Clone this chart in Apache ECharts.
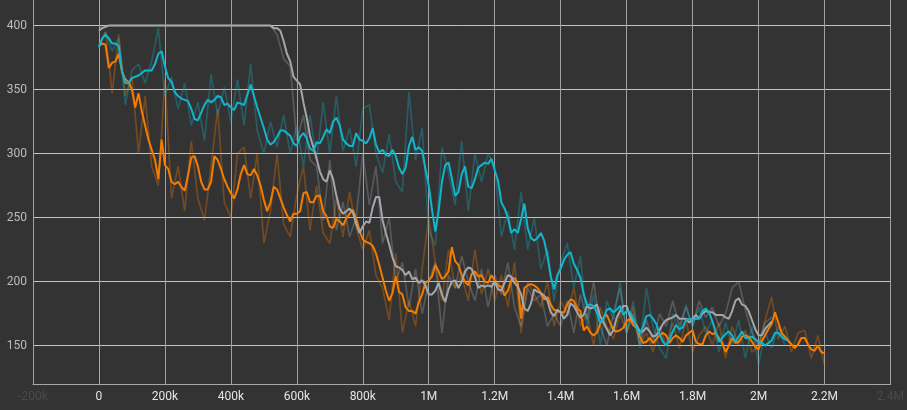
<!DOCTYPE html>
<html>
<head>
<meta charset="utf-8">
<script src="https://cdn.jsdelivr.net/npm/echarts@6/dist/echarts.min.js"></script>
<style>
  html, body { margin: 0; padding: 0; background: #333333; }
  #chart { width: 907px; height: 410px; }
</style>
</head>
<body>
<div id="chart"></div>
<script>
// smoothed curves are sampled every 10k steps, raw curves every 20k steps
const SMOOTH_STEP = 10000
const RAW_STEP = 20000

const orangeSmooth = [
  384, 386, 385, 367, 371, 372, 378, 364, 358, 356,
  350, 336, 347, 333, 322, 311, 303, 295, 280, 311,
  291, 288, 278, 276, 278, 274, 271, 283, 297, 298,
  290, 278, 272, 272, 278, 298, 295, 288, 280, 274,
  269, 265, 272, 284, 291, 284, 283, 288, 283, 275,
  264, 255, 262, 274, 272, 265, 258, 252, 247, 253,
  253, 255, 269, 270, 262, 262, 267, 267, 255, 251,
  243, 242, 249, 247, 244, 249, 253, 256, 249, 240,
  233, 231, 230, 228, 222, 213, 203, 193, 185, 191,
  204, 192, 190, 180, 177, 177, 175, 184, 190, 199,
  201, 204, 213, 208, 202, 204, 208, 227, 216, 213,
  205, 200, 197, 206, 208, 204, 205, 200, 199, 205,
  201, 197, 196, 189, 193, 201, 203, 199, 171, 195,
  197, 198, 197, 195, 191, 186, 188, 182, 178, 177,
  176, 176, 182, 186, 185, 179, 177, 162, 165, 160,
  158, 160, 167, 172, 174, 168, 162, 161, 162, 164,
  169, 171, 166, 164, 157, 152, 153, 156, 152, 155,
  158, 160, 158, 152, 156, 158, 156, 153, 158, 160,
  162, 153, 151, 151, 158, 161, 159, 160, 156, 152,
  145, 150, 156, 152, 153, 157, 158, 157, 153, 149,
  147, 154, 158, 163, 167, 176, 168, 160, 157, 154,
  151, 148, 151, 156, 156, 151, 147, 146, 150, 145,
  144,
]

const cyanSmooth = [
  383, 390, 393, 390, 386, 386, 384, 364, 355, 355,
  359, 360, 361, 363, 365, 365, 365, 370, 378, 380,
  368, 359, 356, 348, 345, 343, 342, 341, 335, 327,
  326, 332, 338, 342, 340, 342, 345, 344, 338, 339,
  336, 334, 340, 339, 338, 346, 354, 345, 336, 328,
  320, 311, 307, 309, 313, 318, 318, 316, 314, 308,
  306, 313, 316, 312, 304, 302, 309, 308, 313, 319,
  316, 325, 328, 322, 311, 308, 306, 306, 316, 311,
  310, 308, 312, 320, 307, 301, 303, 299, 298, 303,
  298, 289, 284, 289, 306, 313, 303, 305, 302, 288,
  275, 256, 239, 255, 278, 291, 293, 281, 267, 270,
  284, 290, 274, 273, 280, 289, 291, 293, 292, 296,
  287, 279, 262, 257, 250, 238, 241, 238, 249, 261,
  242, 234, 232, 234, 238, 232, 220, 204, 194, 205,
  210, 217, 221, 223, 214, 209, 203, 190, 182, 182,
  181, 176, 168, 171, 178, 179, 176, 178, 181, 174,
  177, 176, 171, 164, 159, 165, 173, 174, 171, 167,
  159, 153, 150, 155, 161, 166, 163, 164, 170, 171,
  170, 171, 171, 177, 179, 176, 169, 161, 153, 156,
  159, 161, 158, 153, 157, 161, 156, 156, 157, 155,
  153, 152, 150, 152, 154, 160, 160, 157, 155, 154,
]

const graySmooth = [
  396, 398, 399, 400, 400, 400, 400, 400, 400, 400,
  400, 400, 400, 400, 400, 400, 400, 400, 400, 400,
  400, 400, 400, 400, 400, 400, 400, 400, 400, 400,
  400, 400, 400, 400, 400, 400, 400, 400, 400, 400,
  400, 400, 400, 400, 400, 400, 400, 400, 400, 400,
  400, 400, 400, 398, 398, 396, 388, 378, 372, 360,
  357, 354, 340, 328, 314, 305, 296, 286, 280, 278,
  287, 280, 267, 257, 253, 255, 257, 254, 245, 238,
  243, 247, 246, 258, 266, 266, 248, 238, 229, 219,
  212, 211, 209, 205, 208, 202, 203, 199, 201, 197,
  190, 190, 193, 199, 190, 184, 194, 200, 201, 195,
  200, 208, 211, 210, 204, 195, 197, 196, 197, 196,
  200, 194, 193, 199, 205, 204, 199, 196, 190, 179,
  177, 183, 194, 192, 191, 189, 185, 176, 173, 178,
  176, 171, 174, 183, 181, 176, 172, 174, 181, 179,
  180, 182, 173, 168, 163, 158, 162, 172, 177, 181,
  181, 173, 169, 166, 161, 161, 164, 161, 157, 158,
  162, 167, 170, 171, 172, 174, 171, 171, 171, 168,
  171, 174, 171, 175, 177, 176, 176, 174, 174, 174,
  172, 171, 177, 185, 187, 182, 181, 177, 170, 163,
  158, 158, 163, 166, 169,
]

const orangeRaw = [
  384, 395, 347, 393, 345, 360, 300, 345, 290, 275,
  358, 265, 290, 255, 310, 265, 248, 290, 335, 262,
  250, 300, 305, 265, 300, 230, 255, 300, 245, 235,
  268, 290, 240, 275, 238, 230, 265, 235, 270, 242,
  225, 240, 205, 195, 170, 222, 160, 185, 165, 210,
  250, 215, 185, 225, 195, 205, 185, 225, 190, 210,
  185, 205, 180, 215, 160, 200, 190, 180, 200, 165,
  185, 175, 195, 165, 175, 150, 180, 165, 155, 175,
  160, 180, 150, 160, 145, 165, 150, 168, 148, 170,
  145, 158, 165, 150, 168, 140, 165, 150, 162, 145,
  150, 170, 188, 155, 165, 145, 160, 162, 140, 158,
  135,
]

const cyanRaw = [
  385, 395, 380, 390, 338, 365, 370, 355, 372, 398,
  345, 360, 335, 355, 322, 340, 310, 362, 330, 352,
  325, 358, 322, 370, 318, 300, 325, 305, 330, 300,
  322, 290, 330, 295, 340, 300, 345, 302, 320, 290,
  335, 338, 300, 285, 315, 278, 270, 348, 295, 320,
  240, 228, 305, 285, 260, 310, 255, 300, 278, 300,
  290, 235, 255, 225, 270, 225, 250, 210, 225, 185,
  215, 230, 195, 220, 165, 190, 150, 185, 170, 200,
  160, 185, 148, 195, 165, 148, 140, 175, 160, 182,
  165, 180, 160, 170, 145, 168, 150, 170, 140, 165,
  135, 160, 148, 165, 150,
]

const grayRaw = [
  398, 400, 400, 400, 400, 400, 400, 400, 400, 400,
  400, 400, 400, 400, 400, 400, 400, 400, 400, 400,
  400, 400, 400, 400, 400, 400, 400, 393, 374, 368,
  310, 330, 295, 290, 248, 295, 240, 262, 235, 250,
  300, 260, 290, 230, 250, 200, 215, 180, 210, 175,
  200, 215, 160, 205, 195, 220, 200, 185, 210, 180,
  205, 190, 215, 180, 165, 195, 185, 190, 165, 175,
  165, 185, 160, 190, 170, 200, 165, 150, 175, 195,
  160, 175, 150, 170, 152, 175, 165, 185, 165, 180,
  165, 185, 172, 180, 165, 175, 195, 200, 178, 160,
  150, 168, 172,
]

const ORANGE = "#f57c00"
const CYAN = "#12b5cb"
const GRAY = "#a3a7ab"

const toPoints = (values, step) => values.map((v, i) => [i * step, v])

const stepLabel = (v) => {
  if (v === 0) return "0"
  if (Math.abs(v) >= 1e6) return v / 1e6 + "M"
  return v / 1000 + "k"
}

const rawSeries = (values, color) => ({
  type: "line",
  data: toPoints(values, RAW_STEP),
  symbol: "none",
  silent: true,
  lineStyle: { color, width: 1.7, opacity: 0.32 },
})

const smoothSeries = (values, color) => ({
  type: "line",
  data: toPoints(values, SMOOTH_STEP),
  symbol: "none",
  lineStyle: { color, width: 2 },
})

const chart = echarts.init(document.getElementById("chart"), null, { renderer: "canvas" })

chart.setOption({
  backgroundColor: "#333333",
  animation: false,
  grid: { left: 33, right: 9, top: 0, bottom: 26 },
  xAxis: {
    type: "value",
    min: -200000,
    max: 2400000,
    interval: 200000,
    axisLine: { lineStyle: { color: "#a8a8a8" } },
    axisTick: { show: false },
    axisLabel: {
      color: "#e4e4e4",
      fontFamily: "Roboto",
      fontSize: 12,
      margin: 7,
      showMinLabel: true,
      showMaxLabel: true,
      formatter: (v) => (v === -200000 || v === 2400000) ? "{edge|" + stepLabel(v) + "}" : stepLabel(v),
      rich: { edge: { color: "#4a4a4a", fontFamily: "Roboto", fontSize: 12 } },
    },
    splitLine: { lineStyle: { color: "#a0a0a0", width: 1 } },
  },
  yAxis: {
    type: "value",
    min: 120,
    max: 420,
    minInterval: 50,
    maxInterval: 50,
    axisLine: { show: true, lineStyle: { color: "#a8a8a8" } },
    axisTick: { show: false },
    axisLabel: {
      color: "#bcbcbc",
      fontFamily: "Roboto",
      fontSize: 12,
      margin: 6,
      showMinLabel: false,
      showMaxLabel: false,
    },
    splitLine: { showMaxLine: false, lineStyle: { color: "#c4c4c4", width: 1 } },
  },
  series: [
    rawSeries(orangeRaw, ORANGE),
    rawSeries(grayRaw, GRAY),
    rawSeries(cyanRaw, CYAN),
    smoothSeries(orangeSmooth, ORANGE),
    smoothSeries(graySmooth, GRAY),
    smoothSeries(cyanSmooth, CYAN),
  ],
})
</script>
</body>
</html>
